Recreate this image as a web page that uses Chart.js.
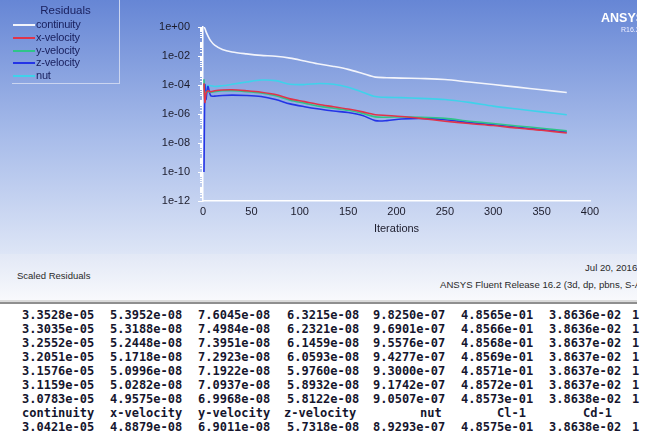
<!DOCTYPE html>
<html lang="en">
<head>
<meta charset="UTF-8">
<title>Scaled Residuals</title>
<script src="https://cdn.jsdelivr.net/npm/chart.js"></script>
<style>
    body { margin: 0; width: 652px; height: 434px; background: #fff; position: relative; overflow: hidden;
           font-family: "Liberation Sans", Arial, sans-serif; }
    #panel { position: absolute; left: 0; top: 0; width: 637px; height: 254px;
             background: linear-gradient(#6686d5, #a9bdea 55%, #dde5f6); }
    #chartbox { position: absolute; left: 0; top: 0; width: 637px; height: 254px; }
    #legend { position: absolute; left: 12px; top: 0; width: 107px; height: 83px;
              border-right: 1px solid #cbd5f0; border-bottom: 1px solid #cbd5f0; color: #1b2260; font-size: 11px; }
    #legend .title { position: absolute; left: 0; width: 107px; top: 4px; text-align: center; font-size: 11.5px; }
    #legend .row { position: absolute; left: 0; height: 12px; line-height: 12px; }
    #legend .row i { position: absolute; left: 1px; top: 6px; width: 22px; height: 2px; }
    #legend .row span { position: absolute; left: 24px; white-space: nowrap; letter-spacing: -0.2px; }
    #logo { position: absolute; left: 601px; top: 11px; color: #fff; font-weight: bold; font-size: 12.5px; }
    #logo2 { position: absolute; left: 621px; top: 26px; color: #eef; font-size: 7px; }
    #strip { position: absolute; left: 0; top: 254px; width: 637px; height: 46px; overflow: hidden;
             background: linear-gradient(#e2e8f6, #f8f9fc); font-size: 9.6px; color: #2a2a2a; }
    #sep1 { position: absolute; left: 0; top: 300px; width: 637px; height: 2px; background: #dadada; }
    #sep2 { position: absolute; left: 0; top: 302px; width: 637px; height: 2px; background: #8f8f8f; }
    #console { position: absolute; left: 0; top: 304px; width: 652px; height: 130px;
               font-family: "DejaVu Sans Mono", monospace; font-weight: bold; font-size: 12px; color: #16162e; }
    #console span { position: absolute; white-space: pre; line-height: 14px; }
</style>
</head>
<body>
<div id="panel">
    <div id="chartbox"><canvas id="grafico-residuos"></canvas></div>
    <div id="legend"><div class="title">Residuals</div></div>
    <div id="logo">ANSYS</div>
    <div id="logo2">R16.2</div>
</div>
<div id="strip">
    <div style="position:absolute; left:17px; top:16px; font-size:9.5px;">Scaled Residuals</div>
    <div style="position:absolute; left:585px; top:8px; white-space:nowrap;">Jul 20, 2016</div>
    <div style="position:absolute; left:440px; top:25px; white-space:nowrap;">ANSYS Fluent Release 16.2 (3d, dp, pbns, S-A)</div>
</div>
<div id="sep1"></div>
<div id="sep2"></div>
<div id="console"></div>

<script>
    // iterações
    var iteracoes = [1, 2, 3, 5, 8, 12, 20, 30, 45, 60, 75, 90, 105, 120, 135, 150, 165, 178, 190, 205, 225, 250, 275, 300, 325, 350, 376];

    var continuity = [1.0, 0.79, 0.5, 0.25, 0.11, 0.056, 0.028, 0.019, 0.014, 0.011, 0.0095, 0.0071, 0.0045, 0.0028, 0.0019, 0.0012,
        6.3e-4, 3.5e-4, 3.2e-4, 3.0e-4, 2.8e-4, 2.4e-4, 1.6e-4, 1.07e-4, 7.1e-5, 4.7e-5, 3.04e-5];
    var xVelocity = [1.3e-4, 6.3e-6, 2.5e-5, 4.0e-5, 3.5e-5, 4.0e-5, 4.5e-5, 4.7e-5, 4.0e-5, 3.2e-5, 2.2e-5, 1.1e-5, 7.1e-6, 4.5e-6, 3.2e-6,
        2.2e-6, 1.4e-6, 8.9e-7, 7.9e-7, 6.8e-7, 5.0e-7, 3.2e-7, 2.2e-7, 1.6e-7, 1.07e-7, 7.6e-8, 4.89e-8];
    var yVelocity = [2.5e-4, 7.9e-6, 3.2e-5, 3.5e-5, 3.2e-5, 3.5e-5, 4.0e-5, 4.0e-5, 3.5e-5, 2.8e-5, 1.8e-5, 8.9e-6, 5.6e-6, 3.5e-6, 2.5e-6,
        1.8e-6, 1.1e-6, 6.3e-7, 6.0e-7, 6.3e-7, 6.0e-7, 5.0e-7, 3.2e-7, 2.2e-7, 1.5e-7, 1.05e-7, 6.9e-8];
    var zVelocity = [1e-10, 1e-4, 1e-5, 7.9e-5, 1.8e-5, 1.7e-5, 1.9e-5, 2.0e-5, 1.9e-5, 1.6e-5, 1.0e-5, 5.0e-6, 3.2e-6, 2.2e-6, 1.6e-6,
        1.26e-6, 7.9e-7, 3.5e-7, 3.5e-7, 4.5e-7, 5.0e-7, 4.0e-7, 2.6e-7, 1.8e-7, 1.2e-7, 8.5e-8, 5.73e-8];
    var nut = [1.26e-4, 5.0e-5, 7.9e-5, 8.9e-5, 8.9e-5, 7.9e-5, 8.9e-5, 1.12e-4, 1.6e-4, 2.2e-4, 2.0e-4, 1.12e-4, 1.07e-4, 1.26e-4, 1.12e-4,
        7.1e-5, 3.2e-5, 1.6e-5, 1.4e-5, 1.35e-5, 1.2e-5, 1.0e-5, 6.3e-6, 3.5e-6, 2.2e-6, 1.4e-6, 8.9e-7];

    var nomesSeries = ['continuity', 'x-velocity', 'y-velocity', 'z-velocity', 'nut'];
    var coresSeries = ['#f2f4fb', '#e0344a', '#2fc48a', '#2434e6', '#3fd2ea'];
    var valoresSeries = [continuity, xVelocity, yVelocity, zVelocity, nut];

    var yTicks = [1, 1e-2, 1e-4, 1e-6, 1e-8, 1e-10, 1e-12];
    var yTickLabels = ['1e+00', '1e-02', '1e-04', '1e-06', '1e-08', '1e-10', '1e-12'];

    // linhas do console do Fluent
    var cabecalho = ['continuity', 'x-velocity', 'y-velocity', 'z-velocity', 'nut', 'Cl-1', 'Cd-1'];
    var linhasConsole = [
        ['3.3528e-05', '5.3952e-08', '7.6045e-08', '6.3215e-08', '9.8250e-07', '4.8565e-01', '3.8636e-02', '1'],
        ['3.3035e-05', '5.3188e-08', '7.4984e-08', '6.2321e-08', '9.6901e-07', '4.8566e-01', '3.8636e-02', '1'],
        ['3.2552e-05', '5.2448e-08', '7.3951e-08', '6.1459e-08', '9.5576e-07', '4.8568e-01', '3.8637e-02', '1'],
        ['3.2051e-05', '5.1718e-08', '7.2923e-08', '6.0593e-08', '9.4277e-07', '4.8569e-01', '3.8637e-02', '1'],
        ['3.1576e-05', '5.0996e-08', '7.1922e-08', '5.9760e-08', '9.3000e-07', '4.8571e-01', '3.8637e-02', '1'],
        ['3.1159e-05', '5.0282e-08', '7.0937e-08', '5.8932e-08', '9.1742e-07', '4.8572e-01', '3.8637e-02', '1'],
        ['3.0783e-05', '4.9575e-08', '6.9968e-08', '5.8122e-08', '9.0507e-07', '4.8573e-01', '3.8638e-02', '1'],
        null,
        ['3.0421e-05', '4.8879e-08', '6.9011e-08', '5.7318e-08', '8.9293e-07', '4.8575e-01', '3.8638e-02', '1']
    ];

    // legenda
    var legenda = document.getElementById('legend');
    for (let i = 0; i < nomesSeries.length; i++) {
        var row = document.createElement('div');
        row.className = 'row';
        row.style.top = (18 + i * 12.8) + 'px';
        row.innerHTML = '<i style="background:' + coresSeries[i] + '"></i><span>' + nomesSeries[i] + '</span>';
        legenda.appendChild(row);
    }

    // console
    var consoleDiv = document.getElementById('console');
    var colunasX = [22, 110, 198, 287, 373, 461, 549, 632];
    var cabecalhoX = [22, 110, 198, 284, 420, 497, 583];
    function addTexto(txt, x, y) {
        var s = document.createElement('span');
        s.textContent = txt;
        s.style.left = x + 'px';
        s.style.top = y + 'px';
        consoleDiv.appendChild(s);
    }
    for (let r = 0; r < linhasConsole.length; r++) {
        var topo = 315 + r * 14 - 7 - 304;
        if (linhasConsole[r] === null) {
            for (let c = 0; c < cabecalho.length; c++) addTexto(cabecalho[c], cabecalhoX[c], topo);
        } else {
            for (let c = 0; c < linhasConsole[r].length; c++) addTexto(linhasConsole[r][c], colunasX[c], topo);
        }
    }

    // ticks menores do eixo log
    var ticksMenores = {
        id: 'ticksMenores',
        afterDraw: function (chart) {
            var y = chart.scales.y;
            var ctx = chart.ctx;
            var x0 = chart.chartArea.left;
            ctx.save();
            ctx.strokeStyle = '#ffffff';
            ctx.lineWidth = 1;
            for (let n = -12; n < 0; n++) {
                for (let k = 1; k < 10; k++) {
                    var v = k * Math.pow(10, n);
                    var py = Math.round(y.getPixelForValue(v)) + 0.5;
                    var len = (k === 1 && n % 2 === 0) ? 5 : 3;
                    ctx.beginPath();
                    ctx.moveTo(x0 - len, py);
                    ctx.lineTo(x0, py);
                    ctx.stroke();
                }
            }
            var pTop = Math.round(y.getPixelForValue(1)) + 0.5;
            ctx.beginPath();
            ctx.moveTo(x0 - 5, pTop);
            ctx.lineTo(x0, pTop);
            ctx.stroke();
            ctx.restore();
        }
    };

    var datasets = [];
    for (let i = 0; i < nomesSeries.length; i++) {
        datasets.push({
            label: nomesSeries[i],
            data: iteracoes.map((it, j) => ({ x: it, y: valoresSeries[i][j] })),
            borderColor: coresSeries[i],
            backgroundColor: coresSeries[i],
            borderWidth: 1.6,
            pointRadius: 0,
            tension: 0.3,
            fill: false
        });
    }

    var grafico = new Chart(document.getElementById('grafico-residuos'), {
        type: 'line',
        data: { datasets: datasets },
        plugins: [ticksMenores],
        options: {
            responsive: true,
            maintainAspectRatio: false,
            animation: false,
            layout: { padding: { left: 0, right: 47, top: 27, bottom: 0 } },
            plugins: {
                legend: { display: false },
                tooltip: { enabled: false }
            },
            scales: {
                x: {
                    type: 'linear',
                    min: 0,
                    max: 400,
                    afterFit: function (scale) { scale.height = 53; },
                    ticks: { stepSize: 50, color: '#1c1c2c', padding: 4, font: { family: 'Liberation Sans', size: 11 } },
                    grid: { display: false, drawTicks: false },
                    border: { display: true, color: '#ffffff', width: 1.5 },
                    title: {
                        display: true, text: 'Iterations', color: '#1c1c2c',
                        font: { family: 'Liberation Sans', size: 11 }, padding: { top: 0, bottom: 18 }
                    }
                },
                y: {
                    type: 'logarithmic',
                    min: 1e-12,
                    max: 1,
                    afterFit: function (scale) { scale.width = 203; },
                    afterBuildTicks: function (scale) {
                        scale.ticks = yTicks.map(v => ({ value: v }));
                    },
                    ticks: {
                        color: '#1c1c2c', padding: 13, font: { family: 'Liberation Sans', size: 11 },
                        callback: function (value) {
                            var idx = yTicks.findIndex(t => Math.abs(Math.log10(t) - Math.log10(value)) < 1e-6);
                            return idx >= 0 ? yTickLabels[idx] : '';
                        }
                    },
                    grid: { display: false, drawTicks: false },
                    border: { display: true, color: '#ffffff', width: 1.5 }
                }
            }
        }
    });
</script>
</body>
</html>
